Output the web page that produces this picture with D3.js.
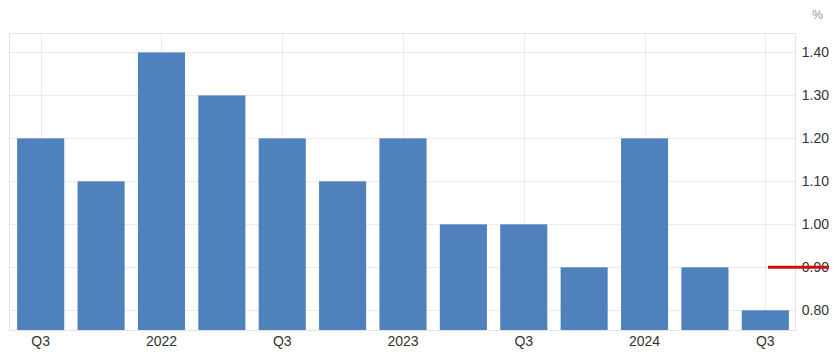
<!DOCTYPE html>
<html><head><meta charset="utf-8">
<script src="https://cdn.jsdelivr.net/npm/d3@7"></script>
<style>body{margin:0;background:#fff;font-family:"Liberation Sans",Arial,sans-serif;}</style>
</head><body><svg id="c" width="834" height="352"></svg>
<script>
const categories = ["2021Q3","2021Q4","2022Q1","2022Q2","2022Q3","2022Q4","2023Q1","2023Q2","2023Q3","2023Q4","2024Q1","2024Q2","2024Q3"];
const tickLabels = ["Q3","","2022","","Q3","","2023","","Q3","","2024","","Q3"];
const values = [1.2,1.1,1.4,1.3,1.2,1.1,1.2,1.0,1.0,0.9,1.2,0.9,0.8];
const yTicks = [0.8,0.9,1.0,1.1,1.2,1.3,1.4];
const forecast = 0.9;

const svg = d3.select("#c");
const L=9.5, R=795.5, T=33.5, B=330.5;
const x = d3.scaleBand().domain(categories).range([L+1, R]).paddingInner(0.22).paddingOuter(0.11);
const y = d3.scaleLinear().domain([0.753,1.444]).range([B,T]);

// grid
const g = svg.append("g");
g.selectAll("line.h").data(yTicks).join("line")
  .attr("x1",L).attr("x2",R).attr("y1",d=>Math.round(y(d))+0.5).attr("y2",d=>Math.round(y(d))+0.5)
  .attr("stroke","#d8d8d8").attr("stroke-dasharray","1,1");
g.selectAll("line.v").data(categories.filter((c,i)=>tickLabels[i]!=="")).join("line")
  .attr("x1",d=>Math.round(x(d)+x.bandwidth()/2)+0.5).attr("x2",d=>Math.round(x(d)+x.bandwidth()/2)+0.5)
  .attr("y1",T).attr("y2",B).attr("stroke","#d8d8d8").attr("stroke-dasharray","1,1");

// border
svg.append("rect").attr("x",L).attr("y",T).attr("width",R-L).attr("height",B-T)
  .attr("fill","none").attr("stroke","#e4e4e4");

// bars
svg.selectAll("rect.bar").data(values).join("rect")
  .attr("x",(d,i)=>x(categories[i])).attr("width",x.bandwidth())
  .attr("y",d=>y(d)).attr("height",d=>B-0.5-y(d)).attr("fill","#4f81bd");

// x labels
svg.selectAll("text.xl").data(categories).join("text")
  .attr("x",d=>x(d)+x.bandwidth()/2).attr("y",346)
  .attr("text-anchor","middle").attr("font-size",14).attr("fill","#333")
  .text((d,i)=>tickLabels[i]);

// y labels
svg.selectAll("text.yl").data(yTicks).join("text")
  .attr("x",829).attr("y",d=>y(d)+5).attr("text-anchor","end")
  .attr("font-size",14).attr("fill","#333").text(d=>d.toFixed(2));

svg.append("text").attr("x",823).attr("y",19).attr("text-anchor","end")
  .attr("font-size",12).attr("fill","#999").text("%");

// forecast marker
svg.append("line").attr("x1",768).attr("x2",829).attr("y1",y(forecast)).attr("y2",y(forecast))
  .attr("stroke","#cc1111").attr("stroke-width",3);
</script></body></html>
